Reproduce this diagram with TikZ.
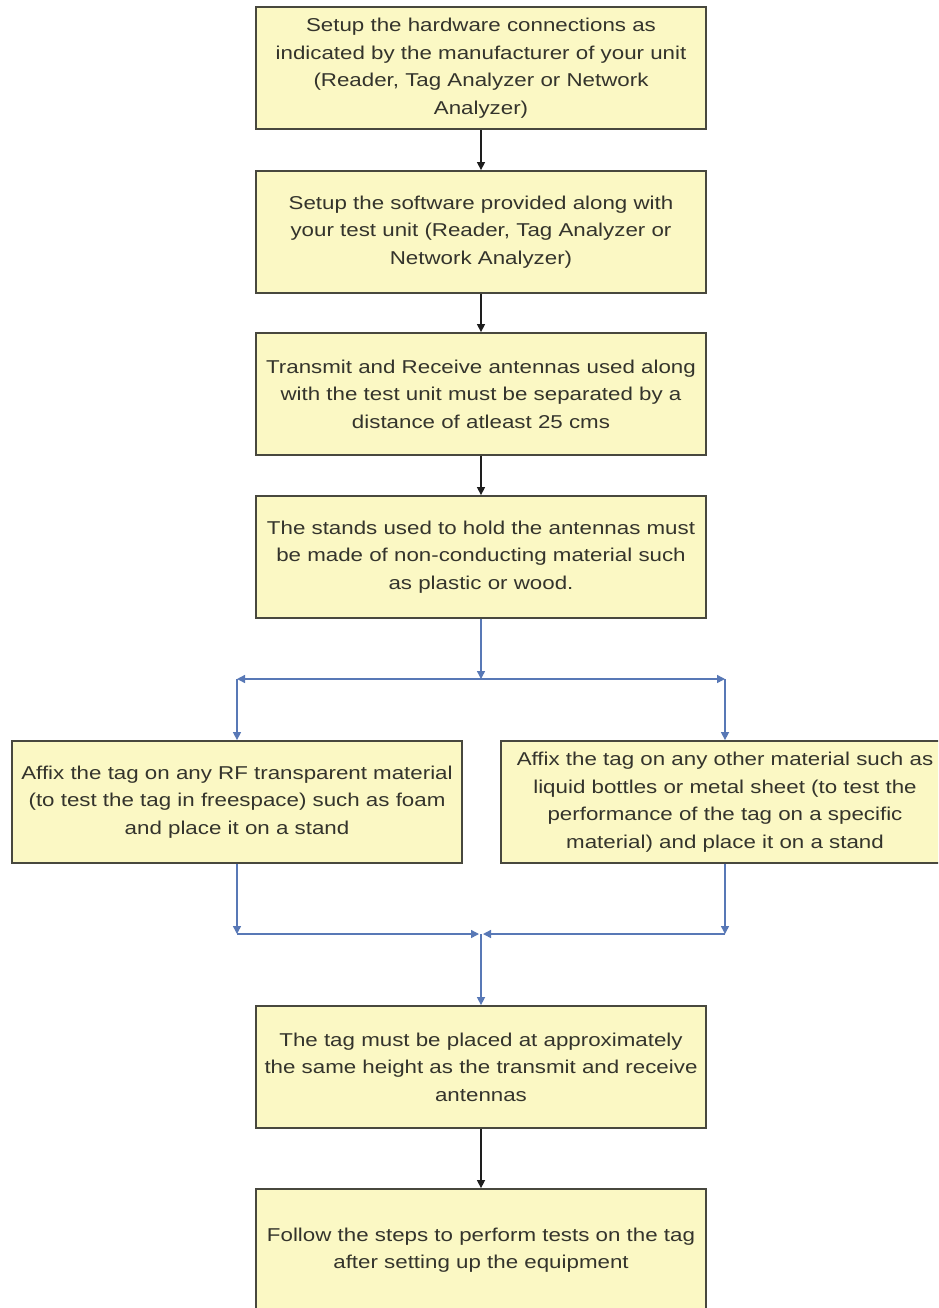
\documentclass[tikz,border=0pt]{standalone}
\usepackage{fontspec}
\setmainfont{Liberation Sans}
\newfontfamily\boxfont[FakeStretch=1.2]{Liberation Sans}
\usetikzlibrary{arrows.meta,calc}
\definecolor{boxfill}{RGB}{251,248,196}
\definecolor{boxline}{RGB}{72,72,62}
\definecolor{boxtext}{RGB}{52,52,44}
\definecolor{flowblue}{RGB}{88,120,182}
\definecolor{flowblack}{RGB}{30,30,30}
\tikzset{
  stepbox/.style={draw=boxline, line width=1.8pt, fill=boxfill, rectangle,
    minimum width=450pt, minimum height=122pt, inner sep=0pt, align=center,
    text=boxtext, font=\boxfont\fontsize{18.6}{27.5}\selectfont},
  blkarrow/.style={draw=flowblack, line width=1.4pt, -{Triangle[length=8pt,width=8pt]}},
  bluearrow/.style={draw=flowblue, line width=1.4pt, -{Triangle[length=8pt,width=8pt]}},
  blueline/.style={draw=flowblue, line width=1.4pt}
}
\begin{document}
\begin{tikzpicture}[x=1pt,y=-1pt]
\useasboundingbox (0,0) rectangle (938,1308);
\clip (0,0) rectangle (938,1308);
\fill[white] (0,0) rectangle (938,1308);

\node[stepbox] (b1) at (481,68) {Setup the hardware connections as\\indicated by the manufacturer of your unit\\(Reader, Tag Analyzer or Network\\Analyzer)};
\node[stepbox] (b2) at (481,232) {Setup the software provided along with\\your test unit (Reader, Tag Analyzer or\\Network Analyzer)};
\node[stepbox] (b3) at (481,394) {Transmit and Receive antennas used along\\with the test unit must be separated by a\\distance of atleast 25 cms};
\node[stepbox] (b4) at (481,557) {The stands used to hold the antennas must\\be made of non-conducting material such\\as plastic or wood.};
\node[stepbox] (bl) at (237,802) {Affix the tag on any RF transparent material\\(to test the tag in freespace) such as foam\\and place it on a stand};
\node[stepbox, minimum width=448pt] (br) at (725,802) {Affix the tag on any other material such as\\liquid bottles or metal sheet (to test the\\performance of the tag on a specific\\material) and place it on a stand};
\node[stepbox] (b5) at (481,1067) {The tag must be placed at approximately\\the same height as the transmit and receive\\antennas};
\node[stepbox] (b6) at (481,1250) {Follow the steps to perform tests on the tag\\after setting up the equipment};

% main black flow
\draw[blkarrow] (b1) -- (b2);
\draw[blkarrow] (b2) -- (b3);
\draw[blkarrow] (b3) -- (b4);
\draw[blkarrow] (b5) -- (b6);

% split
\coordinate (s) at (481,679);
\coordinate (sl) at (bl.north |- s);
\coordinate (sr) at (br.north |- s);
\draw[bluearrow] (b4) -- (s);
\draw[bluearrow] (s) -- (sl);
\draw[bluearrow] (s) -- (sr);
\draw[bluearrow] (sl) -- (bl.north);
\draw[bluearrow] (sr) -- (br.north);

% join
\coordinate (j) at (481,934);
\coordinate (jl) at (bl.south |- j);
\coordinate (jr) at (br.south |- j);
\draw[bluearrow] (bl.south) -- (jl);
\draw[bluearrow] (br.south) -- (jr);
\draw[bluearrow] (jl) -- ($(j)+(-2,0)$);
\draw[bluearrow] (jr) -- ($(j)+(2,0)$);
\draw[bluearrow] (j) -- (b5);
\end{tikzpicture}
\end{document}
